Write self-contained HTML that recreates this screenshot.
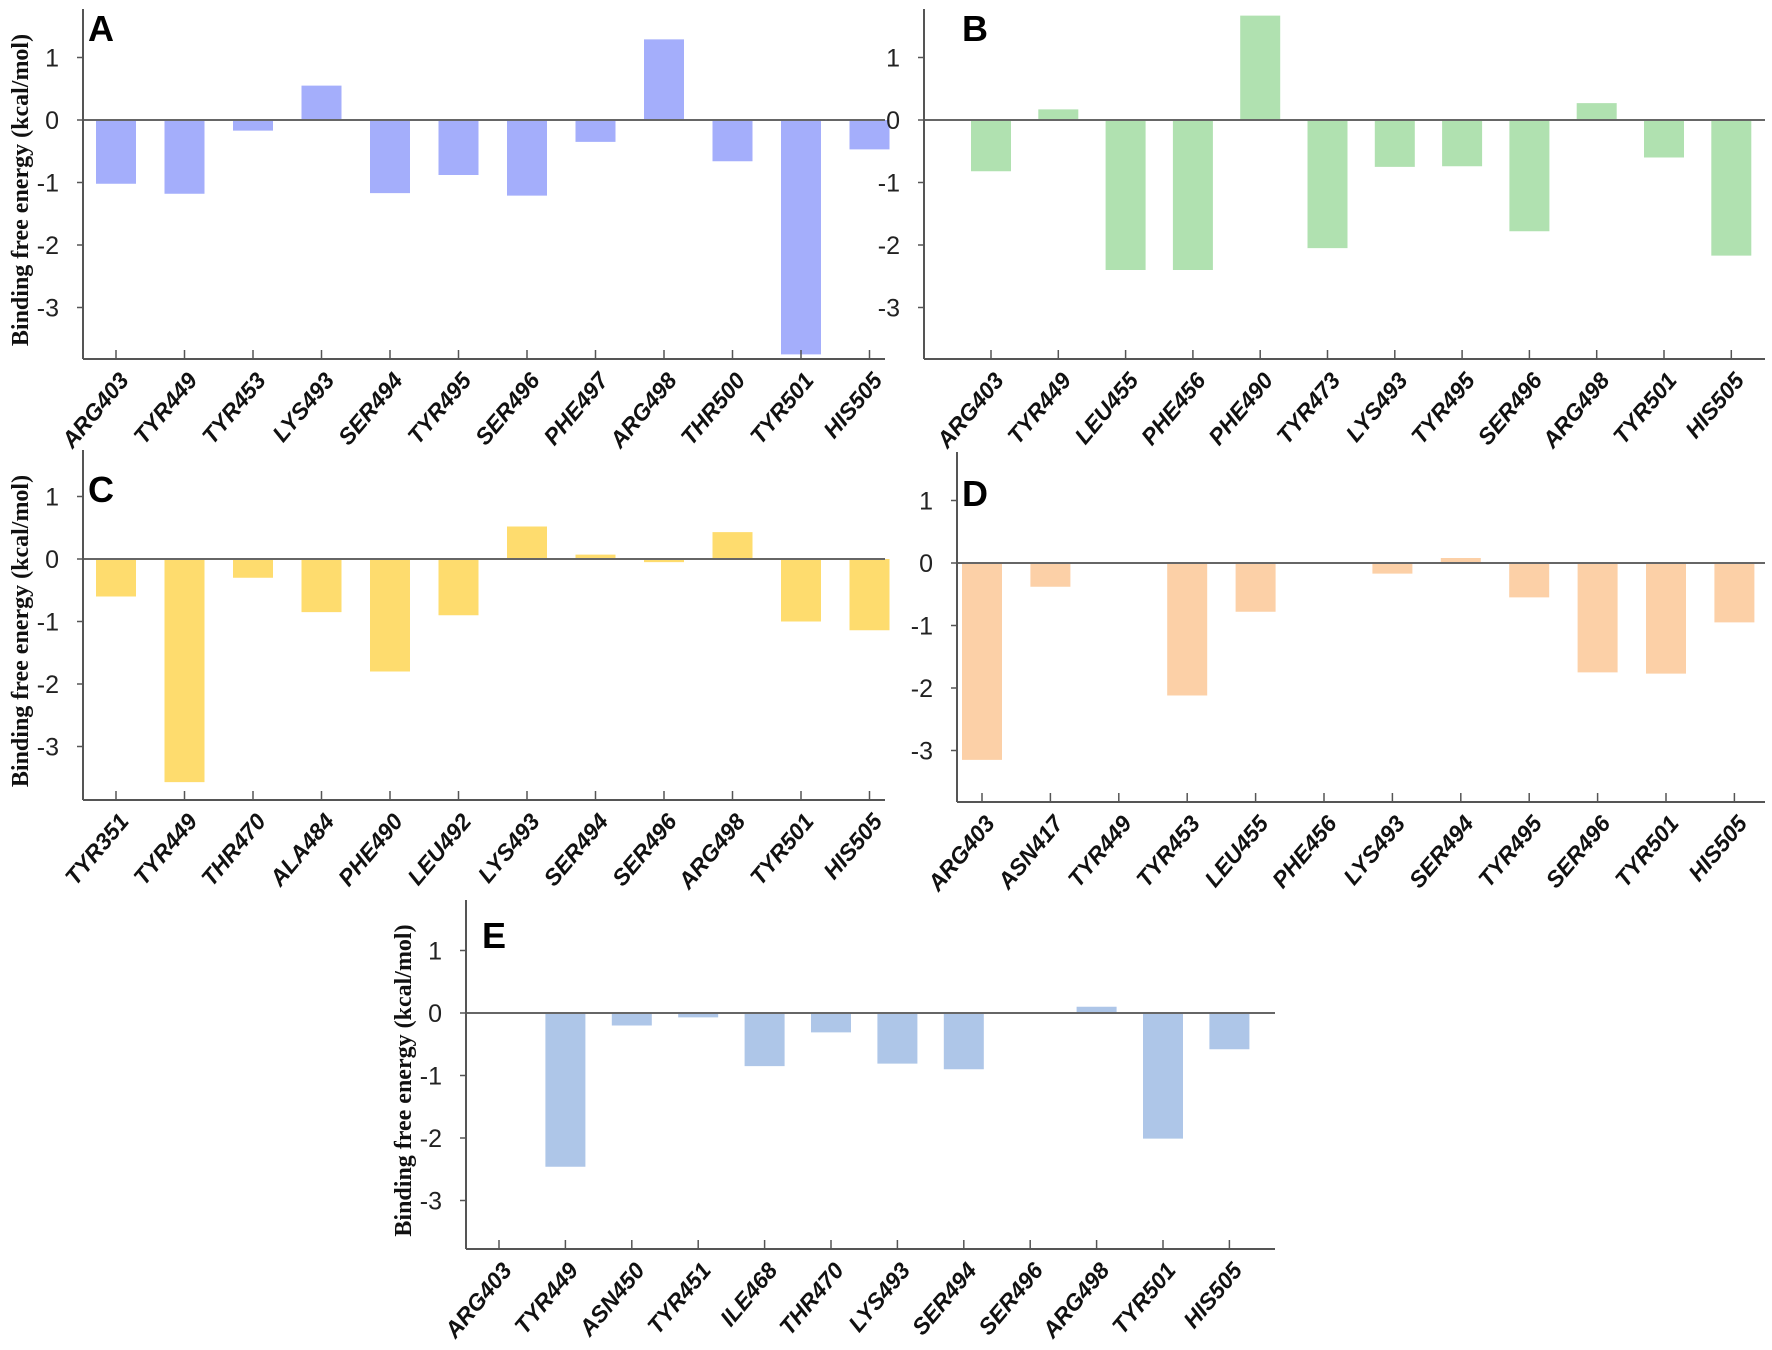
<!DOCTYPE html>
<html><head><meta charset="utf-8"><style>
body{margin:0;background:#fff;}
svg{display:block;}
.tk{font-family:"Liberation Sans Narrow","Liberation Sans",sans-serif;font-size:25px;fill:#222;}
.cat{font-family:"Liberation Sans",sans-serif;font-size:23px;font-weight:bold;font-style:italic;fill:#111;}
.ttl{font-family:"Liberation Serif",serif;font-size:24px;font-weight:bold;fill:#111;}
.let{font-family:"Liberation Sans",sans-serif;font-size:36px;font-weight:bold;fill:#000;}
</style></head><body>
<svg id="fig" width="1772" height="1350" viewBox="0 0 1772 1350" xmlns="http://www.w3.org/2000/svg"></svg>
<script>
const catsA=["ARG403","TYR449","TYR453","LYS493","SER494","TYR495","SER496","PHE497","ARG498","THR500","TYR501","HIS505"];
const valsA=[-1.02,-1.18,-0.17,0.55,-1.17,-0.88,-1.21,-0.35,1.29,-0.66,-3.75,-0.47];
const catsB=["ARG403","TYR449","LEU455","PHE456","PHE490","TYR473","LYS493","TYR495","SER496","ARG498","TYR501","HIS505"];
const valsB=[-0.82,0.17,-2.4,-2.4,1.67,-2.05,-0.75,-0.74,-1.78,0.27,-0.6,-2.17];
const catsC=["TYR351","TYR449","THR470","ALA484","PHE490","LEU492","LYS493","SER494","SER496","ARG498","TYR501","HIS505"];
const valsC=[-0.6,-3.57,-0.3,-0.85,-1.8,-0.9,0.52,0.07,-0.05,0.43,-1.0,-1.14];
const catsD=["ARG403","ASN417","TYR449","TYR453","LEU455","PHE456","LYS493","SER494","TYR495","SER496","TYR501","HIS505"];
const valsD=[-3.15,-0.38,0,-2.12,-0.78,0,-0.17,0.08,-0.55,-1.75,-1.77,-0.95];
const catsE=["ARG403","TYR449","ASN450","TYR451","ILE468","THR470","LYS493","SER494","SER496","ARG498","TYR501","HIS505"];
const valsE=[0,-2.46,-0.2,-0.07,-0.85,-0.31,-0.81,-0.9,0,0.1,-2.01,-0.58];
const yTicks=[1,0,-1,-2,-3];

const NS="http://www.w3.org/2000/svg";
const svg=document.getElementById('fig');
function mk(tag,attrs,parent){const e=document.createElementNS(NS,tag);for(const k in attrs)e.setAttribute(k,attrs[k]);(parent||svg).appendChild(e);return e;}

const panels=[
 {id:"a",L:"A",cats:catsA,vals:valsA,color:"#a4aefb",ax:83,top:9,bot:359,right:885,zero:120,first:116,sp:68.5,lx:88,ly:41,tx:20},
 {id:"b",L:"B",cats:catsB,vals:valsB,color:"#b0e1b0",ax:924,top:9,bot:359,right:1765,zero:120,first:991,sp:67.3,lx:962,ly:41,tx:0},
 {id:"c",L:"C",cats:catsC,vals:valsC,color:"#fedc6e",ax:83,top:450,bot:800,right:885,zero:559,first:116,sp:68.5,lx:88,ly:502,tx:20},
 {id:"d",L:"D",cats:catsD,vals:valsD,color:"#fcd0a7",ax:957,top:452,bot:802,right:1765,zero:563,first:982,sp:68.4,lx:962,ly:506,tx:0},
 {id:"e",L:"E",cats:catsE,vals:valsE,color:"#aec6e8",ax:466,top:900,bot:1249,right:1275,zero:1013,first:499,sp:66.4,lx:482,ly:948,tx:403}
];
const unit=62.5, bw=40;
panels.forEach(p=>{
 const g=mk('g',{});
 
 
 const y=v=>p.zero-v*unit;
 const x=i=>p.first+i*p.sp;
 p.vals.forEach((v,i)=>{
  const r=mk('rect',{x:x(i)-bw/2,y:Math.min(y(v),p.zero),width:bw,height:Math.max(Math.abs(y(v)-p.zero),0.8),fill:p.color},g);
  
  
 });
 const z=mk('line',{x1:p.ax,x2:p.right,y1:p.zero,y2:p.zero,stroke:"#666","stroke-width":2},g);
 
 
 const ya=mk('line',{x1:p.ax,x2:p.ax,y1:p.top,y2:p.bot,stroke:"#555","stroke-width":2},g);
 
 
 const xa=mk('line',{x1:p.ax,x2:p.right,y1:p.bot,y2:p.bot,stroke:"#555","stroke-width":2},g);
 
 
 yTicks.forEach(t=>{
  mk('line',{x1:p.ax-6,x2:p.ax,y1:y(t),y2:y(t),stroke:"#555","stroke-width":1.5},g);
  const tl=mk('text',{x:p.ax-24,y:y(t)+9,"text-anchor":"end",class:"tk"},g);
  tl.textContent=String(t);
  
  
 });
 p.cats.forEach((c,i)=>{
  mk('line',{x1:x(i),x2:x(i),y1:p.bot-9,y2:p.bot,stroke:"#555","stroke-width":1.5},g);
  const cl=mk('text',{x:0,y:0,"text-anchor":"end",class:"cat",transform:`translate(${x(i)+14},${p.bot+22}) rotate(-50)`},g);
  cl.textContent=c;
  
  
 });
 const lt=mk('text',{x:p.lx,y:p.ly,class:"let"},g);
 lt.textContent=p.L;
 
 
 if(p.tx){
  const cy=(p.top+p.bot)/2+6;
  const tt=mk('text',{x:0,y:0,"text-anchor":"middle",class:"ttl",transform:`translate(${p.tx+8},${cy}) rotate(-90)`},g);
  tt.textContent="Binding free energy (kcal/mol)";
  
  
 }
});
</script>
</body></html>
